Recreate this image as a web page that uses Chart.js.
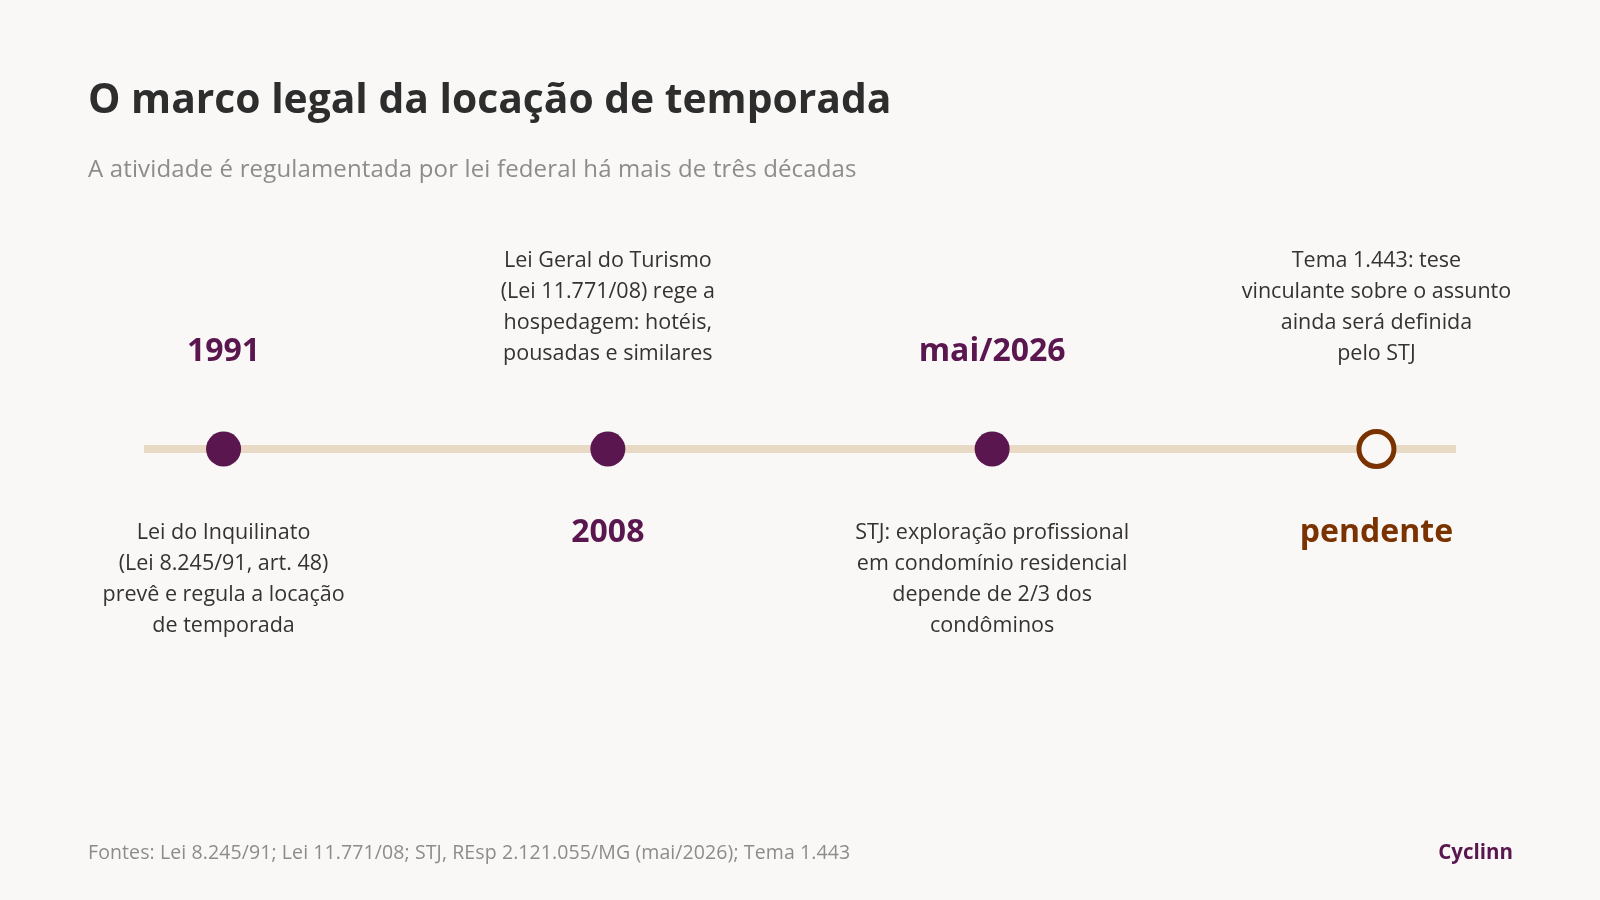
<!DOCTYPE html>
<html lang="pt-BR">
<head>
<meta charset="utf-8">
<script src="https://cdn.jsdelivr.net/npm/chart.js@4.4.1/dist/chart.umd.min.js"></script>
<style>
  html, body { margin:0; padding:0; background:#F9F8F6; }
  body { width:1600px; height:900px; position:relative; overflow:hidden; font-family:'Open Sans','Noto Sans',sans-serif; }
  #chart { position:absolute; left:0; top:0; }
  .t { position:absolute; white-space:nowrap; line-height:1; }
  #title { left:88px; top:77px; font-size:40.8px; font-weight:700; color:#2D2D2D; }
  #subtitle { left:88px; top:156px; font-size:24px; color:#8C8C8C; letter-spacing:0.15px; }
  #source { left:88px; top:842px; font-size:19.5px; color:#8C8C8C; letter-spacing:0.1px; }
  #brand { right:87px; top:841px; font-size:20.5px; font-weight:700; color:#5A164E; }
</style>
</head>
<body>
<canvas id="chart" width="1600" height="900"></canvas>
<div class="t" id="title">O marco legal da locação de temporada</div>
<div class="t" id="subtitle">A atividade é regulamentada por lei federal há mais de três décadas</div>
<div class="t" id="source">Fontes: Lei 8.245/91; Lei 11.771/08; STJ, REsp 2.121.055/MG (mai/2026); Tema 1.443</div>
<div class="t" id="brand">Cyclinn</div>
<script>
// ---- data ----
const categories = ['1991', '2008', 'mai/2026', 'pendente'];
const positions = [0, 1, 2, 3];
const yearSide = ['above', 'below', 'above', 'below'];
const pending = [false, false, false, true];
const descriptions = [
  ['Lei do Inquilinato', '(Lei 8.245/91, art. 48)', 'prevê e regula a locação', 'de temporada'],
  ['Lei Geral do Turismo', '(Lei 11.771/08) rege a', 'hospedagem: hotéis,', 'pousadas e similares'],
  ['STJ: exploração profissional', 'em condomínio residencial', 'depende de 2/3 dos', 'condôminos'],
  ['Tema 1.443: tese', 'vinculante sobre o assunto', 'ainda será definida', 'pelo STJ']
];
const axisRange = [-0.207, 3.207];

// ---- styles ----
const PURPLE = '#5A164E';
const BROWN = '#7A3300';
const BEIGE = '#E8DAC4';
const BG = '#F9F8F6';
const FONT = "'Open Sans','Noto Sans',sans-serif";

const labelsPlugin = {
  id: 'timelineLabels',
  afterDatasetsDraw(chart) {
    const ctx = chart.ctx;
    const xs = chart.scales.x, ys = chart.scales.y;
    const py = ys.getPixelForValue(0);
    ctx.save();
    ctx.textAlign = 'center';
    ctx.textBaseline = 'middle';
    positions.forEach((v, i) => {
      const px = xs.getPixelForValue(v);
      const color = pending[i] ? BROWN : PURPLE;
      const above = yearSide[i] === 'above';
      // year / status label
      ctx.font = `700 32px ${FONT}`;
      ctx.fillStyle = color;
      ctx.fillText(categories[i], px, above ? py - 97 : py + 84);
      // description, on the opposite side
      ctx.font = `400 21.5px ${FONT}`;
      ctx.fillStyle = '#333333';
      const lines = descriptions[i];
      const lh = 31;
      lines.forEach((ln, k) => {
        let y;
        if (above) {
          y = py + 84 + k * lh;
        } else {
          y = py - 95 - (lines.length - 1 - k) * lh;
        }
        ctx.fillText(ln, px, y);
      });
    });
    ctx.restore();
  }
};

new Chart(document.getElementById('chart'), {
  type: 'scatter',
  data: {
    datasets: [
      {
        type: 'line',
        data: [{ x: axisRange[0], y: 0 }, { x: axisRange[1], y: 0 }],
        borderColor: BEIGE,
        borderWidth: 8,
        pointRadius: 0,
        order: 2
      },
      {
        data: positions.map(p => ({ x: p, y: 0 })),
        pointRadius: 17.5,
        pointHoverRadius: 17.5,
        pointBackgroundColor: pending.map(p => p ? BG : PURPLE),
        pointBorderColor: pending.map(p => p ? BROWN : PURPLE),
        pointBorderWidth: pending.map(p => p ? 5 : 0),
        order: 1
      }
    ]
  },
  options: {
    responsive: false,
    devicePixelRatio: 1,
    animation: false,
    layout: { padding: { left: 144, right: 144, top: 249, bottom: 251 } },
    plugins: { legend: { display: false }, tooltip: { enabled: false }, title: { display: false } },
    scales: {
      x: { type: 'linear', min: axisRange[0], max: axisRange[1], display: false },
      y: { min: -1, max: 1, display: false }
    }
  },
  plugins: [labelsPlugin]
});
</script>
</body>
</html>
